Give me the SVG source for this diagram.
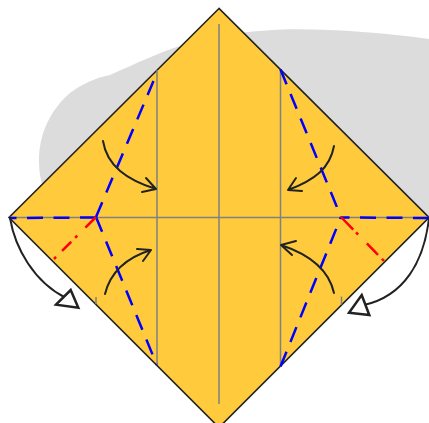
<svg xmlns="http://www.w3.org/2000/svg" width="429" height="423" viewBox="0 0 429 423">
<style>
.grey{fill:none;stroke:#808080;stroke-width:1.5}
.blue{fill:none;stroke:#0000ff;stroke-width:2.5;stroke-dasharray:16 10.500}
.red{fill:none;stroke:#ff0000;stroke-width:2.5}
.arr{fill:none;stroke:#222222;stroke-width:2;stroke-linecap:round;stroke-linejoin:round}
.tri{fill:#ffffff;stroke:#222222;stroke-width:2.500;stroke-linejoin:miter}
</style>
<g id="blob"><path d="M429 39C385 33 340 29.500 297 29.300C278 29.300 262 30.500 240 33L180 46C160 52 135 64 110 75C95 78 82 84 70 93C50 110 39 135 39 160C39 170 40 177 42 184L219 100L429 218Z" fill="#dcdcdc"/></g>
<g id="paper"><path d="M219 8.500L9 217.500L219 427.500L429 217.500Z" fill="#ffcb3d" stroke="#222222" stroke-width="1.600"/></g>
<g id="folds">
<path class="grey" d="M9 217.500H429M219 24V404M157 70V364.500M280.500 70V366.500M96 297V304M341.500 296.500V304.500"/>
</g>
<g id="connectors">
<path class="blue" d="M96 217.500L9 218"/>
<path class="blue" d="M96 217L153.500 81"/>
<path class="blue" d="M96 217L156.700 364.700"/>
<path class="blue" d="M429 218L341 217.500"/>
<path class="blue" d="M280.500 69.500L341 217"/>
<path class="blue" d="M280.500 366.500L341 217"/>
<path class="red" stroke-dasharray="15 11.500 3 5.500 13 8.500 3 9" d="M96 217L54 259"/>
<path class="red" stroke-dasharray="17.500 4 3 12.500 16 5.500 3 9" d="M341 217L384 261"/>
<path class="arr" d="M103 141C107 166 127 180 156 189M146 178L156 189L142 192"/>
<path class="arr" d="M334 146C330 168 315 180 288 190M296 178L288 190L302 191"/>
<path class="arr" d="M105 294C110 274 125 258 151 250M137 249L151 250L143 261"/>
<path class="arr" d="M334 293C329 270 311 255 281 245M296 241L281 245L292 255"/>
<path class="arr" d="M10 218C15 248 34 282 66 298"/>
<path class="tri" d="M70.700 290L78.300 307.700L56 304.700Z"/>
<path class="arr" d="M429 218C424 262 404 296 364 305"/>
<path class="tri" d="M361.700 295L369.300 315L349 312.700Z"/>
</g>
</svg>
